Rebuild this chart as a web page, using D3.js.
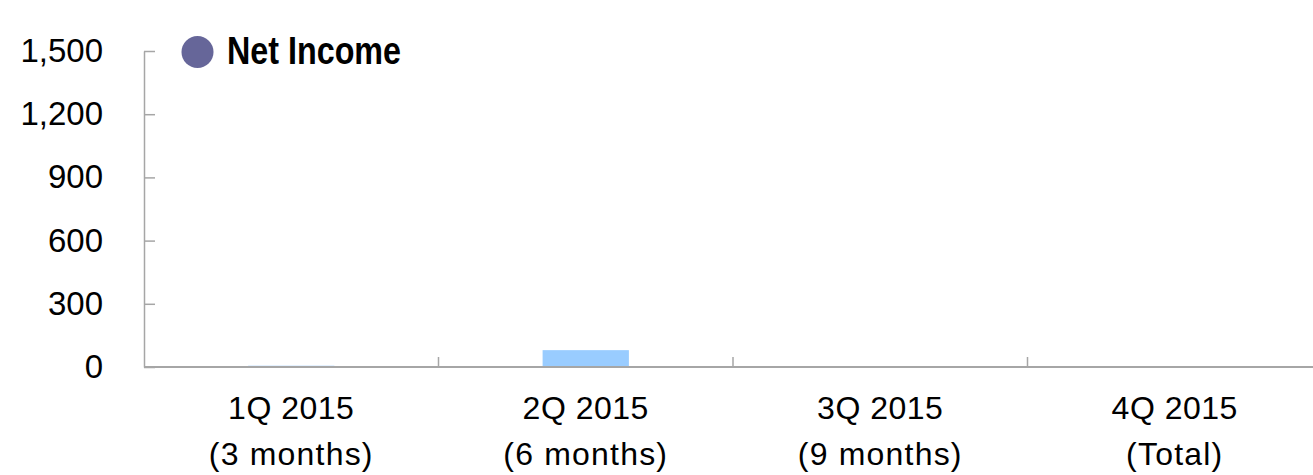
<!DOCTYPE html>
<meta charset="utf-8">
<style>
body { margin: 0; background: #fff; }
svg text { font-family: "Liberation Sans", Arial, sans-serif; fill: #000; }
.bar { fill: #99ccff; }
.axis path, .axis line { stroke: #a6a6a6; }
</style>
<body>
<script src="https://cdnjs.cloudflare.com/ajax/libs/d3/7.8.5/d3.min.js"></script>
<script>

// chart data
var quarters = ["1Q 2015", "2Q 2015", "3Q 2015", "4Q 2015"];
var periods = ["(3 months)", "(6 months)", "(9 months)", "(Total)"];
var netIncome = [6, 80, 0, 0];
var yTicks = [0, 300, 600, 900, 1200, 1500];
var seriesName = "Net Income";

var width = 1313, height = 475;
var plot = {left: 144, right: 1322, top: 51, bottom: 367};

var svg = d3.select("body").append("svg")
    .attr("width", width)
    .attr("height", height);

var x = d3.scaleBand()
    .domain(quarters)
    .range([plot.left, plot.right])
    .padding(0);

var y = d3.scaleLinear()
    .domain([0, 1500])
    .range([plot.bottom, plot.top]);

var barW = x.bandwidth() * 0.293;

// bars
svg.selectAll(".bar")
    .data(netIncome)
  .enter().append("rect")
    .attr("class", "bar")
    .attr("x", function(d, i) { return x(quarters[i]) + (x.bandwidth() - barW) / 2; })
    .attr("width", barW)
    .attr("y", function(d) { return y(d); })
    .attr("height", function(d) { return plot.bottom - y(d); });

// y axis, ticks pointing inward
var yAxis = svg.append("g")
    .attr("class", "axis")
    .attr("transform", "translate(" + plot.left + ",0)")
    .call(d3.axisLeft(y).tickValues(yTicks).tickFormat(d3.format(","))
      .tickSizeInner(-11).tickSizeOuter(0).tickPadding(41));
yAxis.select(".domain").attr("stroke-width", 1.5);
yAxis.selectAll(".tick line").attr("stroke-width", 1.5);
yAxis.selectAll("text")
    .attr("font-size", "33px")
    .attr("font-family", null)
    .attr("fill", "#000");

// x baseline and category separators
svg.append("line")
    .attr("x1", plot.left).attr("x2", width)
    .attr("y1", plot.bottom).attr("y2", plot.bottom)
    .attr("stroke", "#a6a6a6").attr("stroke-width", 2);

svg.selectAll(".sep")
    .data(quarters.slice(1))
  .enter().append("line")
    .attr("class", "sep")
    .attr("x1", function(d) { return x(d); })
    .attr("x2", function(d) { return x(d); })
    .attr("y1", plot.bottom - 10).attr("y2", plot.bottom)
    .attr("stroke", "#a6a6a6").attr("stroke-width", 1.5);

// category labels (two lines)
var labels = svg.selectAll(".xlab")
    .data(quarters)
  .enter().append("text")
    .attr("class", "xlab")
    .attr("text-anchor", "middle")
    .attr("font-size", "32px");
labels.append("tspan")
    .attr("x", function(d) { return x(d) + x.bandwidth() / 2; })
    .attr("y", 419)
    .attr("letter-spacing", "0.5px")
    .text(function(d) { return d; });
labels.append("tspan")
    .attr("x", function(d) { return x(d) + x.bandwidth() / 2; })
    .attr("y", 465)
    .attr("letter-spacing", "1.2px")
    .text(function(d, i) { return periods[i]; });

// legend
svg.append("circle")
    .attr("cx", 197.5).attr("cy", 52).attr("r", 16)
    .attr("fill", "#666699");
svg.append("text")
    .attr("transform", "translate(227,64) scale(0.85,1)")
    .attr("font-size", "38px")
    .attr("font-weight", "bold")
    .text(seriesName);

</script>
</body>
